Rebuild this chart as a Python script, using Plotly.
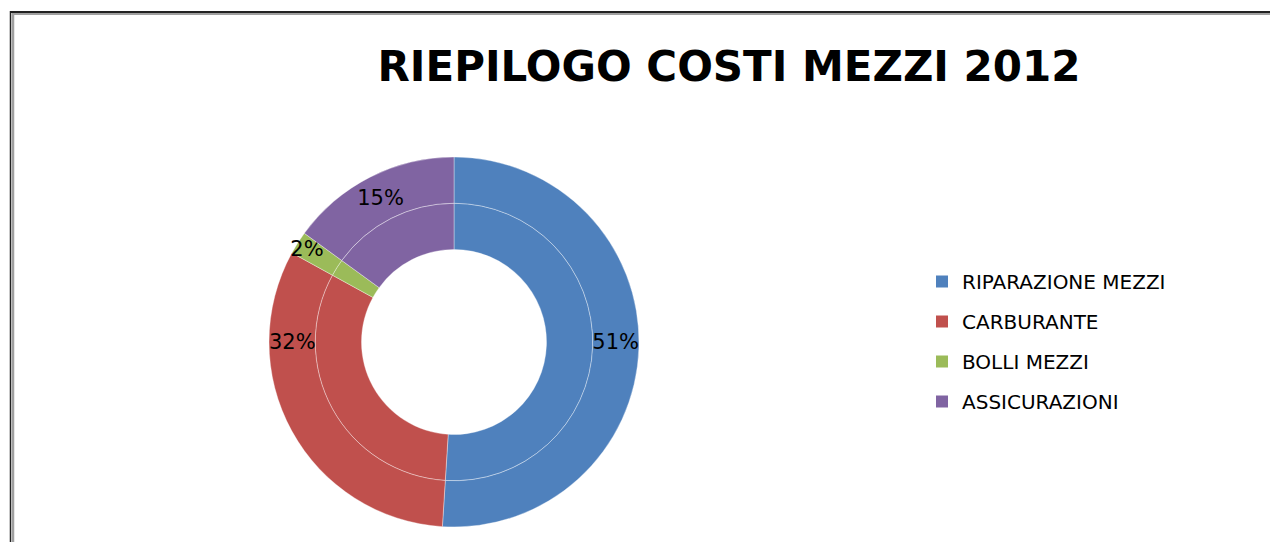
import plotly.graph_objects as go

categories = ["RIPARAZIONE MEZZI", "CARBURANTE", "BOLLI MEZZI", "ASSICURAZIONI"]
values = [51, 32, 2, 15]
colors = ["#4F81BD", "#C0504D", "#9BBB59", "#8064A2"]
title_text = "RIEPILOGO COSTI MEZZI 2012"

W, H = 1270, 542
cx, cy = 454, 342      # donut centre (px)
R_out = 185            # outer radius (px)
R_mid = R_out * 0.75   # inner ring outer radius
R_hole = R_out * 0.5

def dom(r):
    return dict(x=[(cx - r) / W, (cx + r) / W], y=[1 - (cy + r) / H, 1 - (cy - r) / H])

fig = go.Figure()

# inner ring (no labels)
fig.add_trace(go.Pie(
    labels=categories, values=values, sort=False, direction="clockwise", rotation=0,
    hole=R_hole / R_mid, domain=dom(R_mid),
    marker=dict(colors=colors, line=dict(color="rgba(255,255,255,0.6)", width=0.6)),
    textinfo="none", showlegend=False, hoverinfo="label+percent",
))
# outer ring (with % labels)
fig.add_trace(go.Pie(
    labels=categories, values=values, sort=False, direction="clockwise", rotation=0,
    hole=R_mid / R_out, domain=dom(R_out),
    marker=dict(colors=colors, line=dict(color="rgba(255,255,255,0.6)", width=0.6)),
    textinfo="percent", textposition="inside", insidetextorientation="horizontal",
    textfont=dict(family="DejaVu Sans", size=21, color="black"),
    showlegend=False, hoverinfo="label+percent",
))

# legend entries
for i, (c, col) in enumerate(zip(categories, colors)):
    fig.add_trace(go.Scatter(
        x=[None], y=[None], mode="markers", name=c, legendgroup=f"g{i}",
        marker=dict(symbol="square", size=12, color=col), hoverinfo="skip",
    ))

fig.update_layout(
    width=W, height=H,
    margin=dict(l=0, r=0, t=0, b=0),
    paper_bgcolor="white", plot_bgcolor="white",
    xaxis=dict(visible=False), yaxis=dict(visible=False),
    uniformtext=dict(minsize=21, mode="show"),
    title=dict(text=title_text, x=729 / W, xanchor="center", y=1 - 66 / H, yanchor="middle",
               font=dict(family="DejaVu Sans", size=42, color="black", weight="bold")),
    legend=dict(x=922 / W, xanchor="left", y=1 - 262 / H, yanchor="top",
                font=dict(family="DejaVu Sans", size=20, color="black"),
                tracegroupgap=11, itemsizing="constant", bgcolor="rgba(0,0,0,0)"),
    shapes=[
        dict(type="line", xref="paper", yref="paper", x0=10 / W, x1=1, y0=1 - 12 / H, y1=1 - 12 / H,
             line=dict(color="#222222", width=2)),
        dict(type="line", xref="paper", yref="paper", x0=12 / W, x1=1, y0=1 - 14 / H, y1=1 - 14 / H,
             line=dict(color="#A0A0A0", width=2)),
        dict(type="line", xref="paper", yref="paper", x0=10.5 / W, x1=10.5 / W, y0=0, y1=1 - 11 / H,
             line=dict(color="#222222", width=1.5)),
        dict(type="line", xref="paper", yref="paper", x0=13 / W, x1=13 / W, y0=0, y1=1 - 13 / H,
             line=dict(color="#A0A0A0", width=2.5)),
    ],
)

fig.write_html("out.html", config={"displayModeBar": False},
               post_script="document.body.style.margin='0';document.body.style.overflow='hidden';")
